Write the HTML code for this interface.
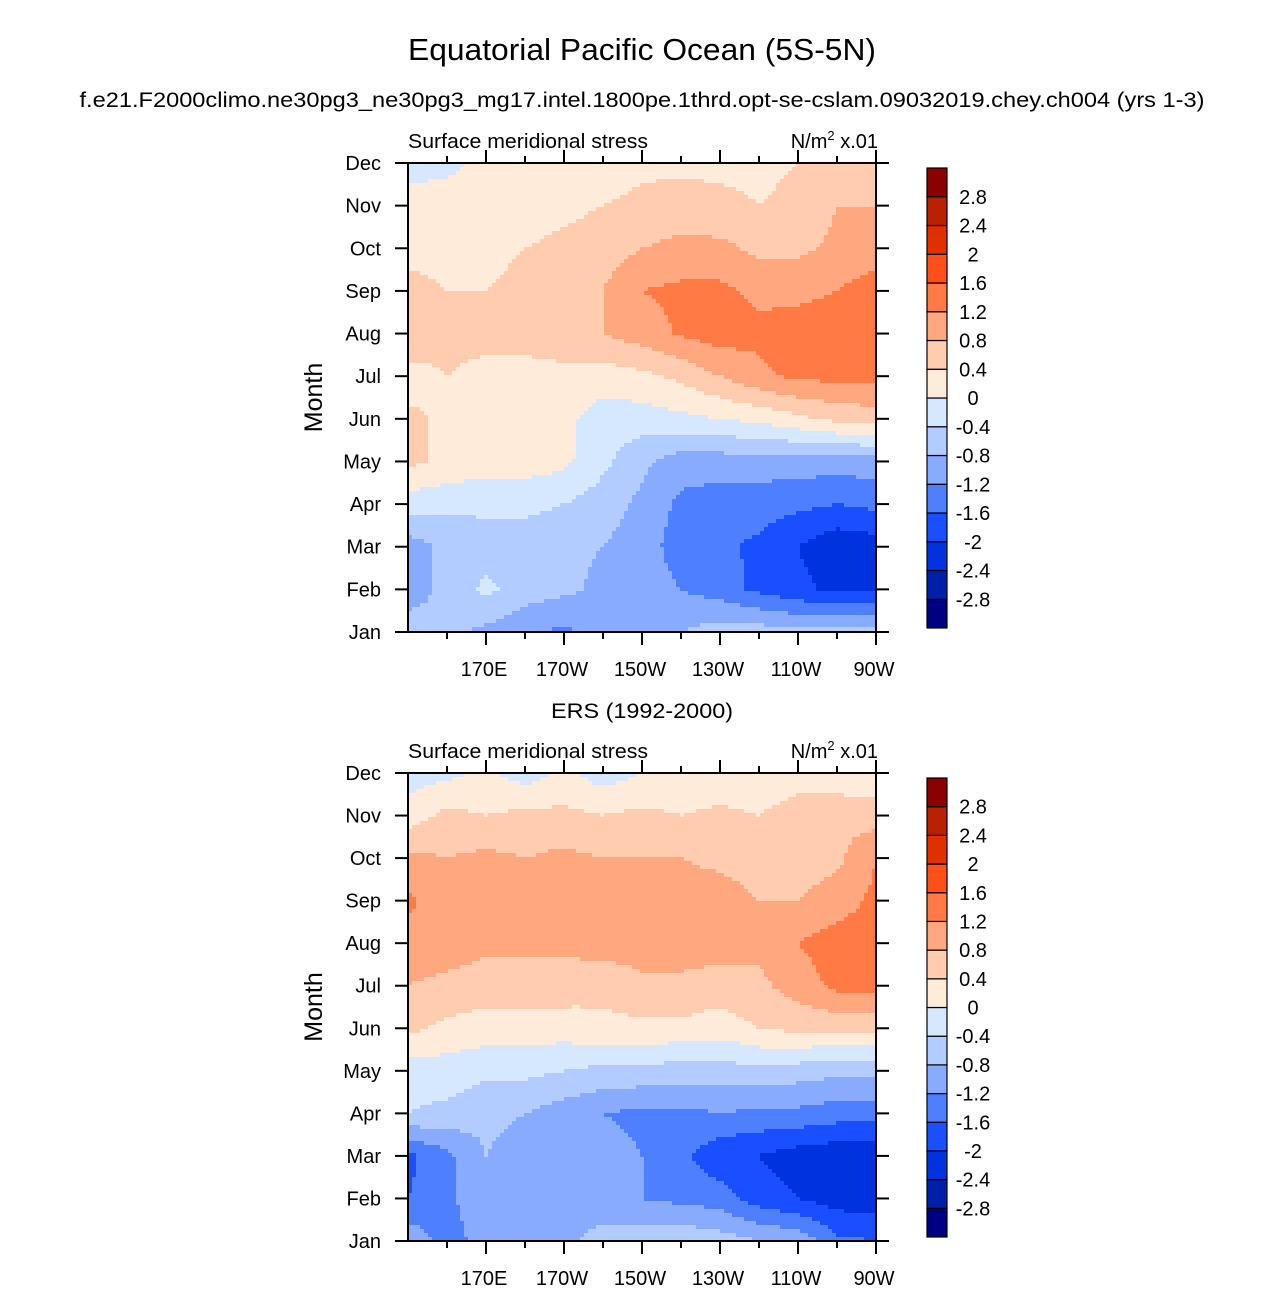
<!DOCTYPE html>
<html><head><meta charset="utf-8"><style>
body{margin:0;background:#fff;font-family:"Liberation Sans",Arial,sans-serif;}
svg text{font-family:"Liberation Sans",Arial,sans-serif;fill:#000;}
</style></head><body>
<svg id="chart" width="1285" height="1292" xmlns="http://www.w3.org/2000/svg">
<text x="642" y="60" font-size="31" text-anchor="middle" textLength="468" lengthAdjust="spacingAndGlyphs">Equatorial Pacific Ocean (5S-5N)</text>
<text x="642" y="107" font-size="21" text-anchor="middle" textLength="1125" lengthAdjust="spacingAndGlyphs">f.e21.F2000climo.ne30pg3_ne30pg3_mg17.intel.1800pe.1thrd.opt-se-cslam.09032019.chey.ch004 (yrs 1-3)</text>
<text x="642" y="718" font-size="21" text-anchor="middle" textLength="182" lengthAdjust="spacingAndGlyphs">ERS (1992-2000)</text>
</svg>
<script>
const months=["Jan","Feb","Mar","Apr","May","Jun","Jul","Aug","Sep","Oct","Nov","Dec"];
const lonLabels=["170E","170W","150W","130W","110W","90W"];
const lonLabelIdx=[2,4,6,8,10,12];
const levels=[-2.8,-2.4,-2,-1.6,-1.2,-0.8,-0.4,0,0.4,0.8,1.2,1.6,2,2.4,2.8];
const levelColors=["#000080","#0020AA","#0033DD","#1A4FFF","#4D7FFF","#88AAFF","#B3CCFF","#D6E8FF","#FFEBDA","#FFCCB0","#FFA880","#FF7A45","#FF5019","#E03000","#B82200","#8B0000"];
// rows Jan..Dec, columns 150E..90W every 10 deg
const modelValues=[
[-0.6,-0.7,-0.9,-1.1,-1.3,-1.0,-0.9,-0.8,-0.6,-0.6,-0.7,-0.7,-0.7],
[-1.0,-0.7,-0.3,-0.6,-0.7,-0.9,-1.0,-1.2,-1.4,-1.7,-1.9,-2.1,-2.1],
[-1.0,-0.7,-0.6,-0.6,-0.7,-0.8,-1.0,-1.4,-1.5,-1.7,-2.0,-2.3,-2.2],
[-0.2,-0.3,-0.3,-0.3,-0.4,-0.6,-0.9,-1.3,-1.4,-1.4,-1.5,-1.6,-1.5],
[0.5,0.3,0.2,0.2,0.1,-0.3,-0.7,-1.0,-1.0,-1.0,-1.0,-1.0,-1.0],
[0.5,0.3,0.2,0.2,0.1,-0.2,-0.2,-0.1,0.0,0.1,0.3,0.5,0.6],
[0.2,0.4,0.3,0.3,0.3,0.2,0.3,0.5,0.8,1.1,1.3,1.3,1.3],
[0.8,0.5,0.5,0.5,0.6,0.8,1.0,1.25,1.4,1.3,1.4,1.4,1.4],
[0.5,0.4,0.4,0.5,0.6,0.8,1.2,1.3,1.3,1.1,1.1,1.2,1.4],
[0.3,0.3,0.3,0.4,0.5,0.6,0.8,0.9,0.9,0.7,0.7,0.9,1.0],
[0.2,0.2,0.2,0.2,0.3,0.4,0.5,0.6,0.5,0.4,0.5,0.8,0.8],
[-0.2,-0.1,0.1,0.1,0.2,0.2,0.3,0.3,0.3,0.3,0.4,0.5,0.5]];
const ersValues=[
[-0.9,-1.4,-1.0,-0.8,-0.9,-0.6,-0.6,-0.5,-0.6,-0.8,-0.9,-1.5,-1.6],
[-1.6,-1.3,-0.9,-1.0,-1.0,-1.1,-1.2,-1.3,-1.4,-1.8,-2.0,-2.2,-2.2],
[-1.7,-1.3,-0.8,-1.0,-1.0,-1.0,-1.2,-1.5,-1.9,-2.0,-2.2,-2.3,-2.3],
[-0.4,-0.5,-0.7,-0.8,-1.0,-1.2,-1.3,-1.3,-1.2,-1.3,-1.3,-1.4,-1.4],
[-0.2,-0.2,-0.3,-0.3,-0.4,-0.5,-0.5,-0.6,-0.6,-0.5,-0.6,-0.7,-0.7],
[0.5,0.3,0.2,0.2,0.2,0.3,0.3,0.3,0.2,0.4,0.5,0.5,0.5],
[0.8,0.7,0.6,0.6,0.6,0.5,0.7,0.7,0.6,0.7,1.0,1.3,1.3],
[1.0,1.0,0.9,0.9,0.9,1.0,1.0,1.0,1.0,0.9,1.2,1.4,1.4],
[1.3,0.9,0.8,1.0,1.0,0.9,1.0,1.0,1.0,0.8,0.8,1.0,1.3],
[0.9,0.8,0.9,0.8,0.9,0.8,0.8,0.8,0.7,0.6,0.6,0.7,1.2],
[0.2,0.5,0.4,0.5,0.5,0.4,0.5,0.4,0.5,0.4,0.6,0.7,0.6],
[-0.2,-0.1,0.1,-0.2,0.1,-0.2,0.0,0.1,0.1,0.1,0.2,0.1,0.1]];

const NS="http://www.w3.org/2000/svg";
const svg=document.getElementById('chart');
function mk(tag,attrs,parent){const e=document.createElementNS(NS,tag);for(const k in attrs)e.setAttribute(k,attrs[k]);(parent||svg).appendChild(e);return e;}
function colorFor(v){let i=0;while(i<levels.length&&v>=levels[i])i++;return levelColors[i];}
const X0=408,X1=876;
function drawPanel(vals,yTop,yBot,name){
  const g=mk('g',{});
  
  
  const nc=vals[0].length,nr=vals.length;
  const xOf=c=>X0+c*(X1-X0)/(nc-1);
  const yOf=r=>yBot-r*(yBot-yTop)/(nr-1);
  const step=4;
  for(let py=yTop;py<yBot;py+=step){
    const r=(yBot-(py+step/2))/(yBot-yTop)*(nr-1);
    const r0=Math.max(0,Math.min(nr-2,Math.floor(r))),fr=r-r0;
    for(let px=X0;px<X1;px+=step){
      const c=((px+step/2)-X0)/(X1-X0)*(nc-1);
      const c0=Math.max(0,Math.min(nc-2,Math.floor(c))),fc=c-c0;
      const v=(1-fr)*((1-fc)*vals[r0][c0]+fc*vals[r0][c0+1])+fr*((1-fc)*vals[r0+1][c0]+fc*vals[r0+1][c0+1]);
      mk('rect',{x:px,y:py,width:Math.min(step,X1-px)+0.3,height:Math.min(step,yBot-py)+0.3,fill:colorFor(v)},g);
    }
  }
  mk('rect',{x:X0,y:yTop,width:X1-X0,height:yBot-yTop,fill:'none',stroke:'#000','stroke-width':2});
  months.forEach((m,i)=>{
    const y=yOf(i);
    mk('line',{x1:X0,x2:X0-13,y1:y,y2:y,stroke:'#000','stroke-width':2});
    mk('line',{x1:X1,x2:X1+13,y1:y,y2:y,stroke:'#000','stroke-width':2});
    const lb=mk('text',{x:381,y:y+7,'font-size':20,'text-anchor':'end'});
    
    
    lb.textContent=m;
  });
  for(let c=1;c<nc;c++){
    const x=xOf(c),major=lonLabelIdx.includes(c);
    mk('line',{x1:x,x2:x,y1:yBot,y2:yBot+(major?13:7),stroke:'#000','stroke-width':2});
    mk('line',{x1:x,x2:x,y1:yTop,y2:yTop-(major?13:7),stroke:'#000','stroke-width':2});
  }
  lonLabelIdx.forEach((c,k)=>{
    const t=mk('text',{x:xOf(c)-2,y:yBot+44,'font-size':20,'text-anchor':'middle'});
    
    
    t.textContent=lonLabels[k];
  });
  const yl=mk('text',{x:0,y:0,'font-size':25,'text-anchor':'middle',transform:`translate(322,${(yTop+yBot)/2}) rotate(-90)`});
  
  
  yl.textContent='Month';
  const lt=mk('text',{x:408,y:yTop-15,'font-size':20,textLength:240,lengthAdjust:'spacingAndGlyphs'});
  
  
  lt.textContent='Surface meridional stress';
  const rt=mk('text',{x:878,y:yTop-15,'font-size':20,'text-anchor':'end'});
  
  
  rt.innerHTML='N/m<tspan dy="-8" font-size="13">2</tspan><tspan dy="8"> x.01</tspan>';
  const cbTop=yTop+5,cbBot=yBot-4,n=levelColors.length,h=(cbBot-cbTop)/n;
  levelColors.forEach((col,i)=>{
    const b=mk('rect',{x:927,y:cbBot-(i+1)*h,width:20,height:h,fill:col,stroke:'#000','stroke-width':1.2});
    
    
  });
  levels.forEach((lv,i)=>{
    const t=mk('text',{x:973,y:cbBot-(i+1)*h+7,'font-size':20,'text-anchor':'middle'});
    
    
    t.textContent=String(lv);
  });
}
drawPanel(modelValues,163,632,'model-panel');
drawPanel(ersValues,773,1241,'ers-panel');
</script>
</body></html>
